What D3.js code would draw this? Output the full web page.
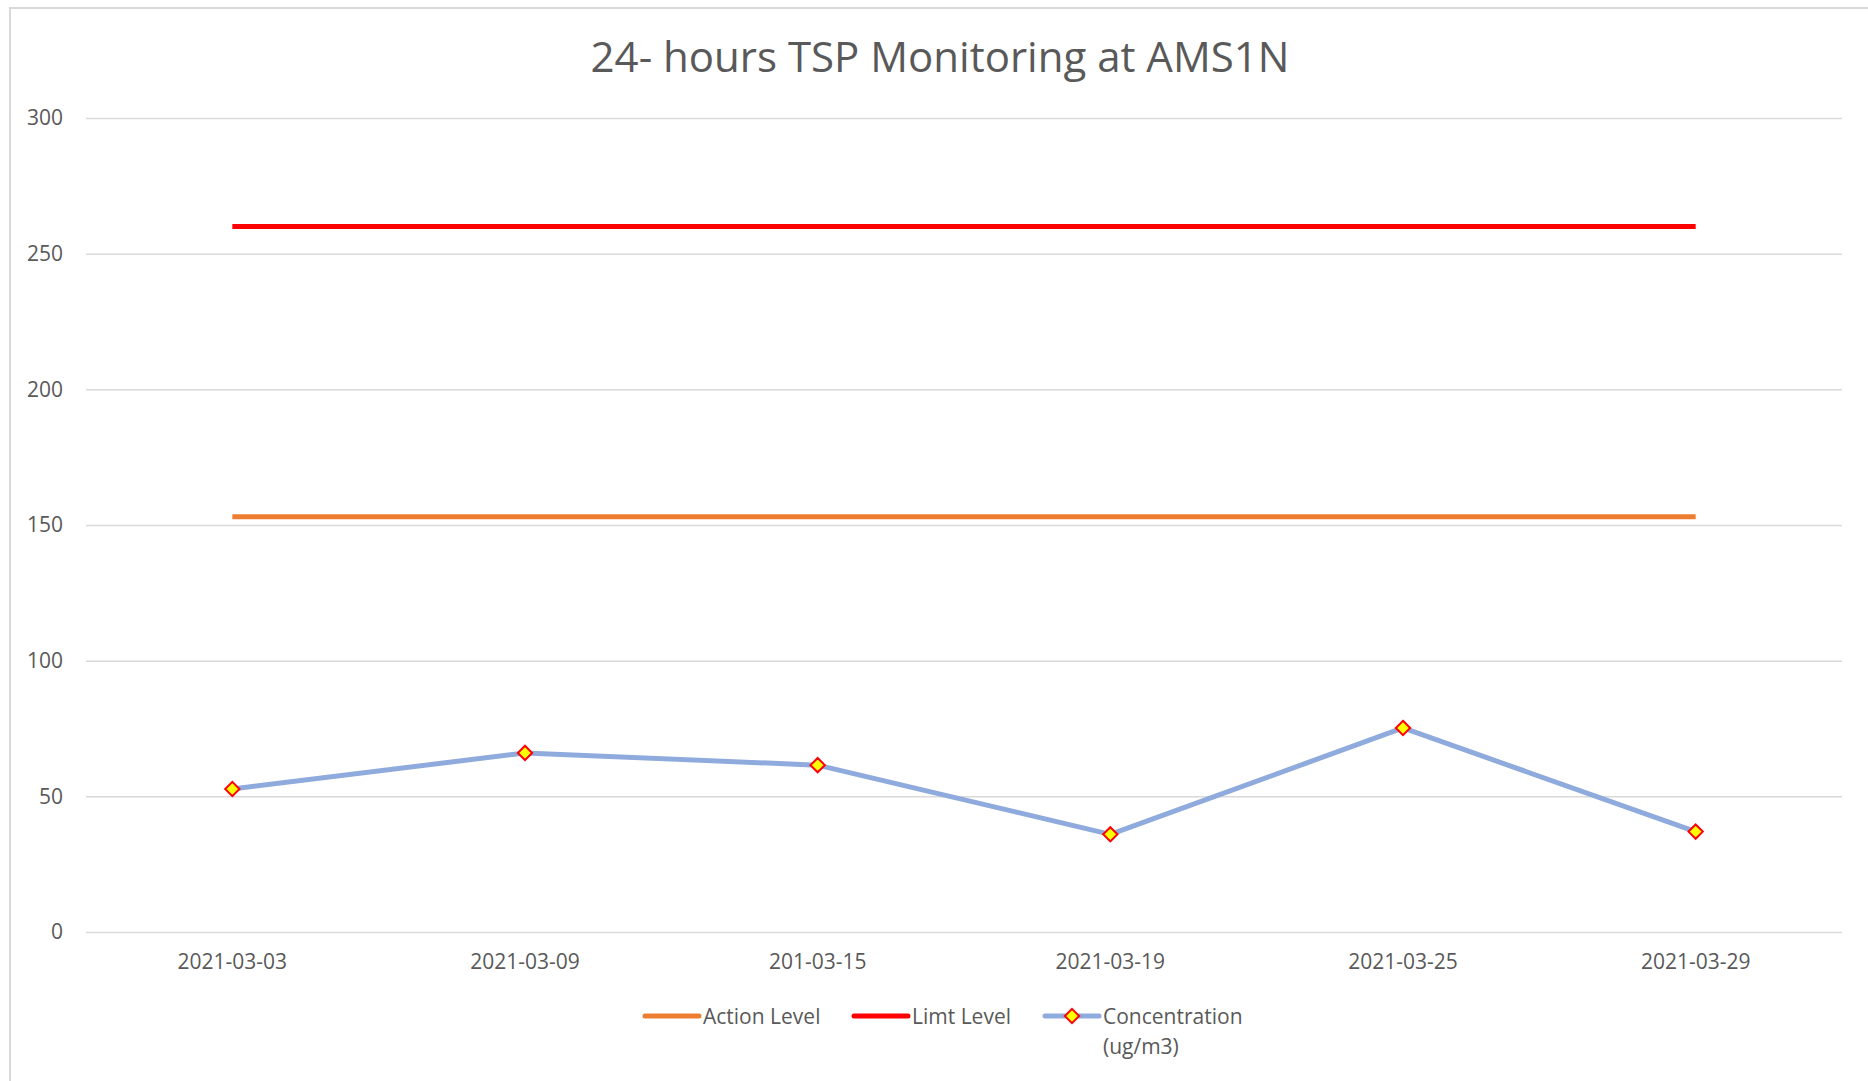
<!DOCTYPE html>
<html>
<head>
<meta charset="utf-8">
<script src="https://cdn.jsdelivr.net/npm/d3@7"></script>
<style>
  body { margin: 0; background: #fff; }
  svg text { font-family: "Open Sans", "Noto Sans", sans-serif; fill: #595959; }
</style>
</head>
<body>
<svg id="chart" width="1868" height="1081"></svg>
<script>
const categories = ['2021-03-03', '2021-03-09', '201-03-15', '2021-03-19', '2021-03-25', '2021-03-29'];
const actionLevel = [153, 153, 153, 153, 153, 153];
const limitLevel = [260, 260, 260, 260, 260, 260];
const concentration = [52.7, 66, 61.5, 36, 75.2, 37];
const yTicks = [0, 50, 100, 150, 200, 250, 300];

const svg = d3.select('#chart');
const margin = { top: 118, right: 26, bottom: 149, left: 86 };
const width = 1868 - margin.left - margin.right;
const height = 1081 - margin.top - margin.bottom;

// chart frame (only top and left edges are visible)
svg.append('path')
    .attr('d', 'M10,1081 V8 H1868')
    .attr('fill', 'none')
    .attr('stroke', '#d9d9d9')
    .attr('stroke-width', 2);

svg.append('text')
    .attr('x', 940).attr('y', 72)
    .attr('text-anchor', 'middle')
    .style('font-size', '42px')
    .text('24- hours TSP Monitoring at AMS1N');

const g = svg.append('g').attr('transform', `translate(${margin.left},${margin.top})`);

const x = d3.scaleBand().domain(categories).range([0, width]);
const y = d3.scaleLinear().domain([0, 300]).range([height, 0]);

// grid + y labels
const yAxis = d3.axisLeft(y).tickValues(yTicks).tickSize(-width).tickPadding(23);
g.append('g').attr('class', 'y-axis').call(yAxis)
    .call(s => s.select('.domain').remove())
    .call(s => s.selectAll('line').attr('stroke', '#d9d9d9').attr('stroke-width', 1.5))
    .call(s => s.selectAll('text').style('font-size', '21px').attr('fill', '#595959'));

const xAxis = d3.axisBottom(x).tickSize(0).tickPadding(22);
g.append('g').attr('class', 'x-axis').attr('transform', `translate(0,${height})`).call(xAxis)
    .call(s => s.select('.domain').remove())
    .call(s => s.selectAll('text').style('font-size', '21px').attr('fill', '#595959'));

const cx = d => x(d) + x.bandwidth() / 2;
const line = d3.line().x(d => cx(d[0])).y(d => y(d[1]));

const series = [
    { name: 'Action Level', values: actionLevel, color: '#ED7D31' },
    { name: 'Limt Level', values: limitLevel, color: '#FF0000' },
    { name: 'Concentration', values: concentration, color: '#8FAADC' }
];

series.forEach(s => {
    g.append('path')
        .datum(categories.map((c, i) => [c, s.values[i]]))
        .attr('fill', 'none')
        .attr('stroke', s.color)
        .attr('stroke-width', 5)
        .attr('stroke-linejoin', 'round')
        .attr('d', line);
});

const diamond = d3.symbol().type(d3.symbolDiamond2).size(130);
g.selectAll('.marker')
    .data(categories.map((c, i) => [c, concentration[i]]))
    .enter().append('path')
    .attr('class', 'marker')
    .attr('transform', d => `translate(${cx(d[0])},${y(d[1])})`)
    .attr('d', diamond)
    .attr('fill', '#FFFF00')
    .attr('stroke', '#FF0000')
    .attr('stroke-width', 2);

// legend
const legendX = [645, 854, 1045];
const legend = svg.append('g').attr('class', 'legend');
series.forEach((s, i) => {
    const lg = legend.append('g').attr('transform', `translate(${legendX[i]},1016)`);
    lg.append('line').attr('x1', 0).attr('x2', 54)
        .attr('stroke', s.color).attr('stroke-width', 5).attr('stroke-linecap', 'round');
    if (s.name === 'Concentration') {
        lg.append('path').attr('transform', 'translate(27,0)').attr('d', diamond)
            .attr('fill', '#FFFF00').attr('stroke', '#FF0000').attr('stroke-width', 2);
    }
    const t = lg.append('text').attr('x', 58).attr('y', 8).style('font-size', '21px');
    t.append('tspan').text(s.name);
    if (s.name === 'Concentration') {
        t.append('tspan').attr('x', 58).attr('dy', 30).text('(ug/m3)');
    }
});
</script>
</body>
</html>
